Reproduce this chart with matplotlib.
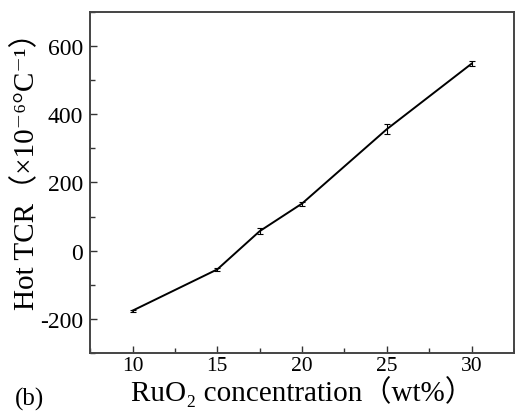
import matplotlib
matplotlib.use("Agg")
import matplotlib.pyplot as plt
from matplotlib.ticker import MultipleLocator

# RuO2 content vs hot TCR, panel (b)
ruo2_wt = [10, 15, 17.5, 20, 25, 30]
hot_tcr = [-176, -55, 57, 138, 356, 548]
tcr_err = [3, 5, 8, 6, 15, 8]

xticks = [10, 15, 20, 25, 30]
yticks = [-200, 0, 200, 400, 600]

plt.rcParams['font.family'] = ['Liberation Serif', 'DejaVu Serif',
                               'Noto Sans CJK SC']
plt.rcParams['axes.unicode_minus'] = False

fig = plt.figure(figsize=(5.15, 4.14), dpi=100)
ax = fig.add_axes([0.175, 0.145, 0.823, 0.824])

ax.errorbar(ruo2_wt, hot_tcr, yerr=tcr_err, color='black', lw=1.4,
            elinewidth=0.8, capsize=2.5, capthick=0.8)

ax.set_xlim(7.5, 32.5)
ax.set_ylim(-300, 700)
ax.set_xticks(xticks)
ax.set_yticks(yticks)
ax.xaxis.set_minor_locator(MultipleLocator(2.5))
ax.yaxis.set_minor_locator(MultipleLocator(100))
ax.tick_params(which='both', direction='in', color='#333333', width=1.0)
ax.tick_params(which='major', length=5)
ax.tick_params(which='minor', length=3.5)
ax.tick_params(axis='x', which='major', labelsize=15.5, pad=2)
ax.tick_params(axis='y', which='major', labelsize=17, pad=5)
for s in ax.spines.values():
    s.set_linewidth(1.4)
    s.set_color('#444444')

ax.set_ylabel("Hot TCR（×10⁻⁶°C⁻¹）", fontsize=21)
ax.yaxis.set_label_coords(-0.118, 0.555)
ax.set_xlabel("RuO₂ concentration（wt%）", fontsize=21, labelpad=0)
fig.text(0.028, 0.02, "(b)", fontsize=18)

fig.savefig("out.png", dpi=100)
